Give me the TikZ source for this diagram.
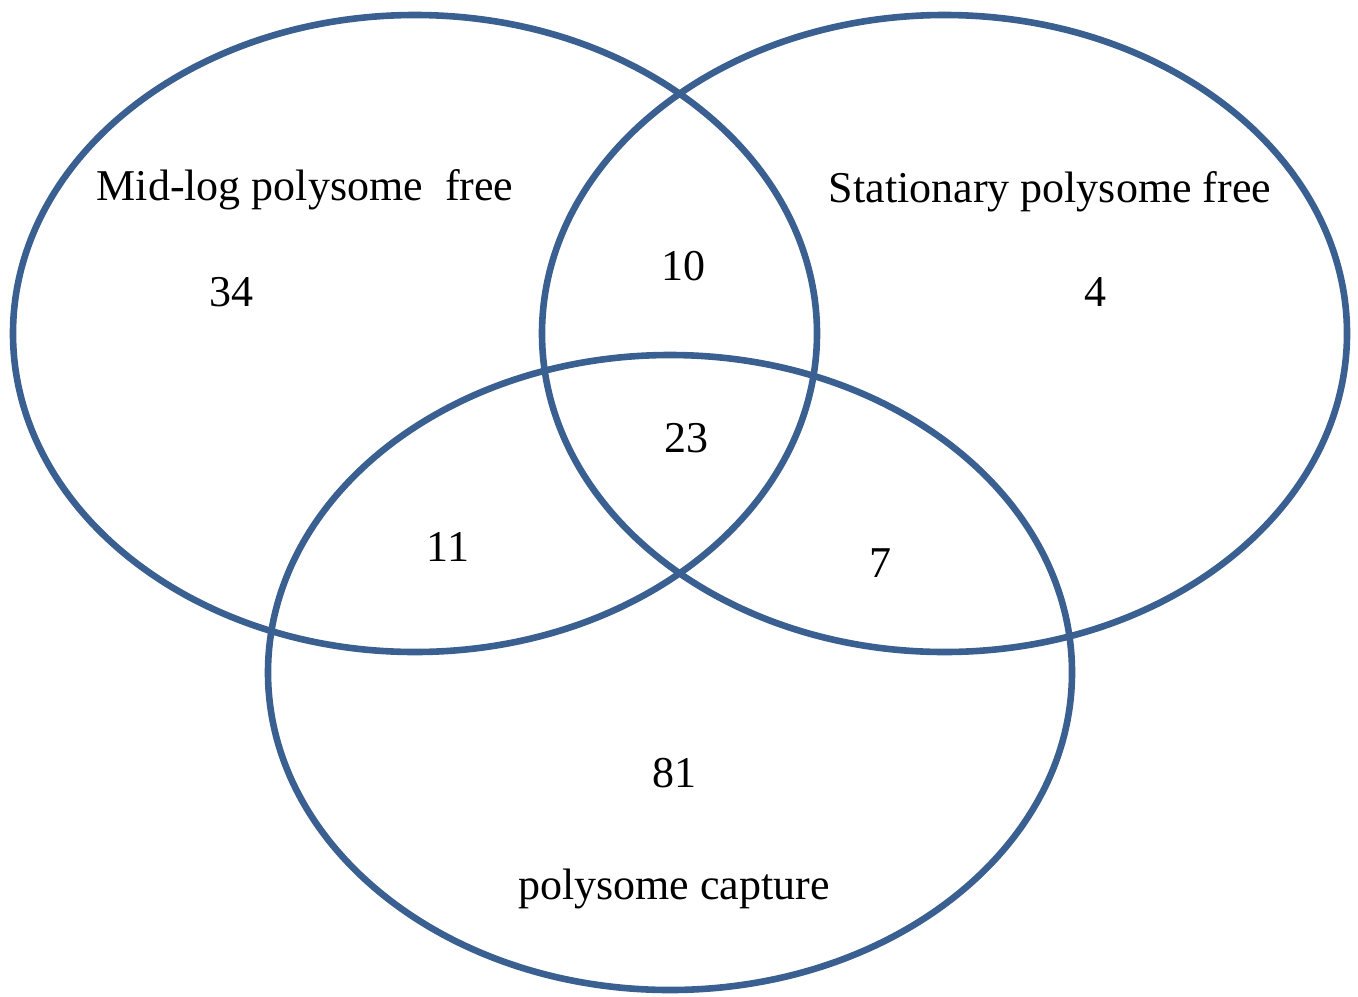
\documentclass[tikz,border=0pt]{standalone}
\usepackage{fontspec}
\setmainfont{Liberation Serif}
\definecolor{setline}{RGB}{58,95,145}
\begin{document}
\begin{tikzpicture}[x=0.5pt,y=-0.5pt,
  setring/.style={draw=setline,line width=3.3pt},
  label/.style={inner sep=0pt,font=\fontsize{22}{26}\selectfont}]
\useasboundingbox (0,0) rectangle (1358,996);
% the three sets
\draw[setring] (415,333.5) ellipse [x radius=402,y radius=318.5];
\draw[setring] (944.5,333.5) ellipse [x radius=402.5,y radius=318.5];
\draw[setring] (670,672.5) ellipse [x radius=402,y radius=317.5];
% set names
\node[label] (midlog) at (305,190) {Mid-log polysome\ \ free};
\node[label] (stat) at (1050,192) {Stationary polysome free};
\node[label] (capture) at (674,889) {polysome capture};
% counts
\node[label] (n34) at (231,292) {34};
\node[label] (n10) at (683,266) {10};
\node[label] (n4) at (1095,292) {4};
\node[label] (n23) at (686,438) {23};
\node[label] (n11) at (448,547) {11};
\node[label] (n7) at (880,563) {7};
\node[label] (n81) at (674,773) {81};
\end{tikzpicture}
\end{document}
